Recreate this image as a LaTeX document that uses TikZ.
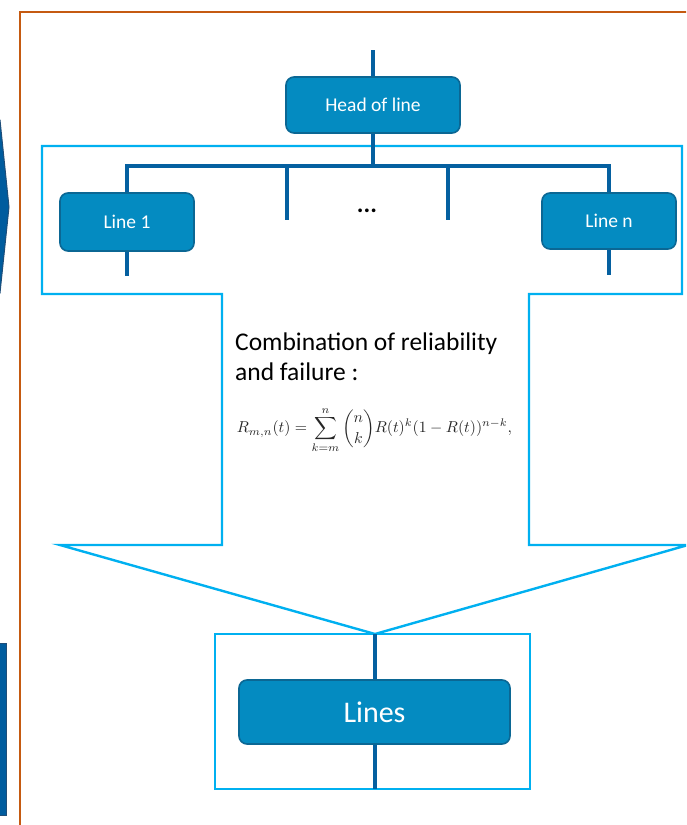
\documentclass[tikz,border=0pt]{standalone}
\usepackage{amsmath}
\usepackage{graphicx}
\usepackage[no-math]{fontspec}
\setmainfont{Carlito}
\definecolor{boxfill}{HTML}{048BC1}
\definecolor{boxedge}{HTML}{0B6794}
\definecolor{busblue}{HTML}{0560A0}
\definecolor{lightblue}{HTML}{00B0F0}
\definecolor{frameorange}{HTML}{C55A11}
\definecolor{darkblue}{HTML}{005C9E}
\definecolor{darkedge}{HTML}{1F4E79}
\begin{document}
\begin{tikzpicture}[x=1pt,y=-1pt,
  box/.style={draw=boxedge, line width=1.6pt, fill=boxfill, rounded corners=8pt,
    text=white, inner sep=0pt, font=\fontsize{19.5}{22}\selectfont},
  bus/.style={draw=busblue, line width=4pt, line join=miter},
  callout/.style={draw=lightblue, line width=2.4pt, line join=miter},
  leftshape/.style={fill=darkblue, draw=darkedge, line width=1pt}]
\useasboundingbox (0,0) rectangle (686,825);
\clip (0,0) rectangle (686,825);
% left partial shapes
\fill[leftshape] (-20,120) -- (0,120) -- (9,207) -- (0,293) -- (-20,293) -- cycle;
\fill[leftshape] (-20,643) rectangle (6,815);
% orange frame
\draw[frameorange, line width=2.2pt] (20,900) -- (20,12) -- (720,12);
% callout outline
\draw[callout] (42,146) -- (682,146) -- (682,294) -- (529,294) -- (529,545) -- (688,545)
  -- (375,634) -- (60,545) -- (222,545) -- (222,294) -- (42,294) -- cycle;
\draw[callout] (215,634) rectangle (530,789);
% boxes
\node[box, minimum width=174pt, minimum height=56pt] (head) at (373,105) {Head of line};
\node[box, minimum width=134pt, minimum height=58pt] (line1) at (127,222) {Line 1};
\node[box, minimum width=134pt, minimum height=56pt] (linen) at (609,221) {Line n};
\node[box, minimum width=271pt, minimum height=64pt, font=\fontsize{30}{34}\selectfont] (lines) at (374.5,712) {Lines};
% coordinates
\coordinate (headtop) at (373,50);
\coordinate (busM) at (373,166);
\coordinate (d2top) at (287,166);
\coordinate (d2bot) at (287,220);
\coordinate (d3top) at (448,166);
\coordinate (d3bot) at (448,220);
\coordinate (l1bot) at (127,276);
\coordinate (lnbot) at (609,275);
\coordinate (linestop) at (374.5,634);
\coordinate (linesbot) at (374.5,789);
% connectors
\draw[bus] (headtop) -- (head.north);
\draw[bus] (head.south) -- (busM);
\draw[bus] (line1.north) |- (busM) -| (linen.north);
\draw[bus] (d2top) -- (d2bot);
\draw[bus] (d3top) -- (d3bot);
\draw[bus] (line1.south) -- (l1bot);
\draw[bus] (linen.south) -- (lnbot);
\draw[bus] (linestop) -- (lines.north);
\draw[bus] (lines.south) -- (linesbot);
% texts
\node[font=\fontsize{25}{26}\selectfont\bfseries, inner sep=0pt] (dots) at (367,211) {...};
\node[anchor=north west, align=left, inner sep=0pt, font=\fontsize{25.5}{30}\selectfont] (txt) at (235,333)
  {Combination of reliability\\and failure :};
\node[inner sep=0pt, text=black!85] (formula) at (374.5,430)
  {\resizebox{275pt}{!}{$\displaystyle R_{m,n}(t)=\sum_{k=m}^{n}\binom{n}{k}R(t)^k(1-R(t))^{n-k},$}};
\end{tikzpicture}
\end{document}
